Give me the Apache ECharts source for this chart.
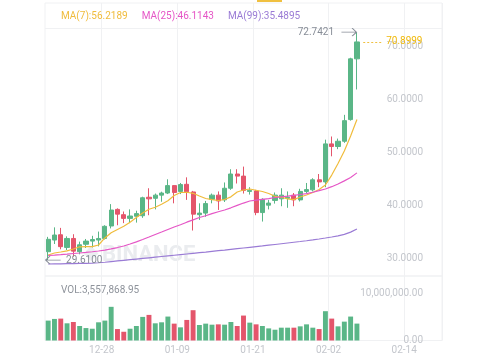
<!DOCTYPE html>
<html><head><meta charset="utf-8">
<script src="https://cdn.jsdelivr.net/npm/echarts@6/dist/echarts.min.js"></script>
<style>html,body{margin:0;padding:0;background:#fff}#c{width:480px;height:357px}</style>
</head><body><div id="c"></div>
<script>
const dates = ['12-19','12-20','12-21','12-22','12-23','12-24','12-25','12-26','12-27','12-28','12-29','12-30','12-31',
'01-01','01-02','01-03','01-04','01-05','01-06','01-07','01-08','01-09','01-10','01-11','01-12','01-13','01-14','01-15','01-16','01-17','01-18','01-19','01-20','01-21','01-22','01-23','01-24','01-25','01-26','01-27','01-28','01-29','01-30','01-31',
'02-01','02-02','02-03','02-04','02-05','02-06','02-07','02-08','02-09','02-10','02-11','02-12','02-13','02-14','02-15','02-16','02-17','02-18','02-19'];
const tickLabels = ['12-28','01-09','01-21','02-02','02-14'];

const opens  = [31.19,33.4,34.4,32.0,33.7,31.2,32.6,33.2,33.4,33.7,36.06,39.2,38.2,37.5,37.9,38.0,41.5,41.3,41.9,42.3,43.7,42.6,43.95,42.5,38.2,38.5,41.1,41.9,41.0,43.2,45.9,45.5,42.6,42.7,38.6,40.0,40.9,41.2,41.3,41.9,41.0,42.6,42.9,44.8,44.4,51.6,51.1,52.1,56.2,67.7];
const closes = [33.54,34.35,32.15,33.7,31.3,32.5,33.2,33.5,33.7,36.0,39.08,38.3,37.5,37.95,38.4,41.4,41.2,41.9,42.3,43.7,42.4,43.9,42.55,38.3,38.5,40.3,41.9,40.8,43.2,45.9,45.5,42.8,42.8,38.6,41.1,40.4,41.9,41.9,41.5,41.0,42.6,42.95,44.8,44.4,51.6,51.1,52.1,56.0,67.7,70.8999];
const lows   = [29.61,32.65,31.65,31.5,30.25,30.7,31.9,32.0,32.2,33.5,35.6,36.2,36.6,36.6,36.7,37.6,38.1,39.2,40.65,42.1,40.35,42.1,41.0,35.2,37.2,37.8,40.35,39.1,40.6,42.9,44.1,42.2,42.0,38.1,36.9,39.2,40.3,39.8,39.5,39.8,40.7,42.3,42.6,43.4,43.4,49.25,50.6,51.8,56.0,61.9];
const highs  = [34.0,35.8,35.7,34.1,34.5,33.1,33.6,34.2,35.0,36.2,40.2,39.4,38.8,39.2,38.95,41.6,43.2,42.2,42.55,44.9,43.8,44.2,45.27,42.7,40.35,40.8,42.2,42.6,44.3,46.8,46.8,47.3,43.4,42.9,41.3,41.0,42.4,43.2,42.6,42.3,43.1,44.2,45.1,45.9,52.4,53.0,52.6,57.1,67.9,72.7421];
const volumes = [4190000,4540000,4610000,3620000,3900000,3050000,2620000,2480000,3830000,4190000,7090000,2410000,1840000,2480000,3050000,4970000,5390000,3620000,3830000,5040000,3550000,2770000,4330000,6380000,3260000,3550000,3330000,3400000,3330000,3900000,3050000,5250000,3760000,3400000,3050000,2550000,2270000,2700000,2700000,2700000,2980000,3400000,2700000,2410000,6170000,4610000,2980000,3970000,5040000,3557868.95];
const ma7  = [30.57,30.95,31.14,31.36,31.7,32.12,32.14,32.14,32.46,33.8,34.77,35.4,36.0,36.76,37.67,38.52,39.22,39.6,40.18,40.83,41.83,42.4,42.45,42.25,41.74,41.26,41.04,40.88,41.07,41.58,42.5,42.87,43.06,42.83,42.59,42.2,41.68,41.5,41.2,41.04,41.55,41.93,42.4,42.97,43.82,45.7,47.9,50.25,53.1,56.2189];
const ma25 = [30.47,30.55,30.64,30.74,30.85,30.95,31.06,31.18,31.32,31.5,31.72,31.98,32.27,32.65,33.05,33.5,33.97,34.45,34.92,35.4,35.87,36.3,36.78,37.22,37.67,38.0,38.4,38.75,39.09,39.5,39.95,40.4,40.79,40.95,41.1,41.25,41.45,41.57,41.7,41.85,42.02,42.2,42.45,42.75,43.06,43.5,44.0,44.6,45.24,46.1143];
const ma99 = [28.86,28.88,28.9,28.92,28.94,28.97,29.0,29.04,29.1,29.2,29.32,29.44,29.56,29.68,29.8,29.92,30.04,30.16,30.28,30.4,30.52,30.64,30.76,30.88,31.0,31.12,31.25,31.38,31.5,31.63,31.76,31.89,32.02,32.15,32.28,32.42,32.56,32.7,32.84,32.98,33.12,33.27,33.43,33.6,33.78,33.98,34.2,34.48,34.9,35.4895];
const priceTicks = [30,40,50,60,70];
const volTicks = [0,10000000];

const UP = '#5ab687', DOWN = '#e4556b';
const C7 = '#f0bc3c', C25 = '#e556c6', C99 = '#9a7bd5';
const GRIDC = '#f0f1f3', AXT = '#c3c6cc', MARKC = '#868c96';
const last = closes.length - 1;
const candle = opens.map((o, i) => [o, closes[i], lows[i], highs[i]]);
const volData = volumes.map((v, i) => ({ value: v, itemStyle: { color: closes[i] >= opens[i] ? UP : DOWN } }));
let maxIdx = 0, minIdx = 0;
highs.forEach((h, i) => { if (h > highs[maxIdx]) maxIdx = i; });
lows.forEach((l, i) => { if (l < lows[minIdx]) minIdx = i; });
const showTick = (idx, val) => tickLabels.indexOf(val) >= 0;
const fmtVol = v => Number(v).toLocaleString('en-US', { minimumFractionDigits: 2, maximumFractionDigits: 2 });
const legendText = { MA7: 'MA(7):' + ma7[last].toFixed(4), MA25: 'MA(25):' + ma25[last].toFixed(4), MA99: 'MA(99):' + ma99[last].toFixed(4) };

const chart = echarts.init(document.getElementById('c'), null, { renderer: 'canvas' });
chart.setOption({
  animation: false,
  backgroundColor: '#fff',
  textStyle: { fontFamily: 'Roboto' },
  title: { text: 'VOL:' + fmtVol(volumes[last]), left: 61, top: 285, padding: 0,
    textStyle: { fontSize: 10, fontWeight: 'normal', color: '#8e939b', fontFamily: 'Roboto' } },
  legend: {
    data: [{ name: 'MA7', textStyle: { color: C7 } }, { name: 'MA25', textStyle: { color: C25 } }, { name: 'MA99', textStyle: { color: C99 } }],
    icon: 'none', itemWidth: 0, itemHeight: 10, itemGap: 9, left: 56, top: 11, padding: 0, selectedMode: false,
    formatter: n => legendText[n], textStyle: { fontSize: 10, fontFamily: 'Roboto' }
  },
  grid: [
    { left: 45, right: 38, top: 3, height: 273, show: true, borderColor: GRIDC, borderWidth: 1 },
    { left: 45, right: 38, top: 276, height: 64.5, show: true, borderColor: GRIDC, borderWidth: 1 }
  ],
  xAxis: [
    { type: 'category', gridIndex: 0, data: dates, boundaryGap: true,
      axisLine: { show: false }, axisTick: { show: false, interval: showTick },
      axisLabel: { show: false, interval: showTick },
      splitLine: { show: true, interval: showTick, lineStyle: { color: GRIDC, width: 1 } } },
    { type: 'category', gridIndex: 1, data: dates, boundaryGap: true,
      axisLine: { show: false }, axisTick: { show: false, interval: showTick },
      axisLabel: { show: true, interval: showTick, color: AXT, fontSize: 10, margin: 5, padding: [0, 6.3, 0, 0] },
      splitLine: { show: true, interval: showTick, lineStyle: { color: GRIDC, width: 1 } } }
  ],
  yAxis: [
    { type: 'value', gridIndex: 0, position: 'right', min: 26.593, max: 78.268,
      splitLine: { show: false }, axisLine: { show: false }, axisTick: { show: false },
      axisLabel: { inside: true, margin: 19, align: 'right', color: AXT, fontSize: 10, customValues: priceTicks, formatter: v => Number(v).toFixed(4) } },
    { type: 'value', gridIndex: 1, position: 'right', min: 0, max: 13580000,
      splitLine: { show: false }, axisLine: { show: false }, axisTick: { show: false },
      axisLabel: { inside: true, margin: 19, align: 'right', color: AXT, fontSize: 10, customValues: volTicks, formatter: v => fmtVol(v) } }
  ],
  graphic: [
    { type: 'line', shape: { x1: 45, y1: 28.5, x2: 442, y2: 28.5 }, style: { stroke: GRIDC, lineWidth: 1 }, silent: true },
    { type: 'rect', shape: { x: 257, y: 0, width: 25, height: 2 }, style: { fill: '#f0c040' }, silent: true },
    { type: 'polygon', shape: { points: [[91, 246], [98.5, 253.5], [91, 261], [83.5, 253.5]] }, style: { fill: '#eceef1' }, silent: true, z: -1 },
    { type: 'text', x: 102, y: 244, style: { text: 'BINANCE', fill: '#eaecef', font: 'bold 22px Roboto' }, silent: true, z: -1 }
  ],
  series: [
    { name: 'K', type: 'candlestick', xAxisIndex: 0, yAxisIndex: 0, data: candle, barWidth: '74%',
      itemStyle: { color: UP, color0: DOWN, borderColor: UP, borderColor0: DOWN, borderWidth: 1 },
      markPoint: {
        animation: false, silent: true,
        data: [
          { coord: [maxIdx, highs[maxIdx]], symbol: 'path://M0,4L14,4M10,0L14,4L10,8', symbolSize: [15, 8], symbolOffset: [-8, 0],
            itemStyle: { color: 'none', borderColor: MARKC, borderWidth: 1 },
            label: { show: true, position: 'left', distance: 4, formatter: () => highs[maxIdx].toFixed(4), color: MARKC, fontSize: 10 } },
          { coord: [minIdx, lows[minIdx]], symbol: 'path://M14,4L0,4M4,0L0,4L4,8', symbolSize: [15, 8], symbolOffset: [5, 0],
            itemStyle: { color: 'none', borderColor: MARKC, borderWidth: 1 },
            label: { show: true, position: 'right', distance: 2, formatter: () => lows[minIdx].toFixed(4), color: MARKC, fontSize: 10 } }
        ]
      },
      markLine: {
        animation: false, silent: true, symbol: ['none', 'none'],
        lineStyle: { color: '#f0c040', type: [2, 2], width: 1 },
        label: { show: true, position: 'end', distance: 4, formatter: () => closes[last].toFixed(4), color: '#f0b90b', fontSize: 10 },
        data: [[{ coord: [last + 1, closes[last]] }, { coord: [last + 4, closes[last]] }]]
      }
    },
    { name: 'MA7', type: 'line', xAxisIndex: 0, yAxisIndex: 0, data: ma7, showSymbol: false, symbol: 'none', lineStyle: { color: C7, width: 1.2 }, itemStyle: { color: C7 } },
    { name: 'MA25', type: 'line', xAxisIndex: 0, yAxisIndex: 0, data: ma25, showSymbol: false, symbol: 'none', lineStyle: { color: C25, width: 1.2 }, itemStyle: { color: C25 } },
    { name: 'MA99', type: 'line', xAxisIndex: 0, yAxisIndex: 0, data: ma99, showSymbol: false, symbol: 'none', lineStyle: { color: C99, width: 1.2 }, itemStyle: { color: C99 } },
    { name: 'VOL', type: 'bar', xAxisIndex: 1, yAxisIndex: 1, data: volData, barWidth: '78%' }
  ]
});
</script></body></html>
